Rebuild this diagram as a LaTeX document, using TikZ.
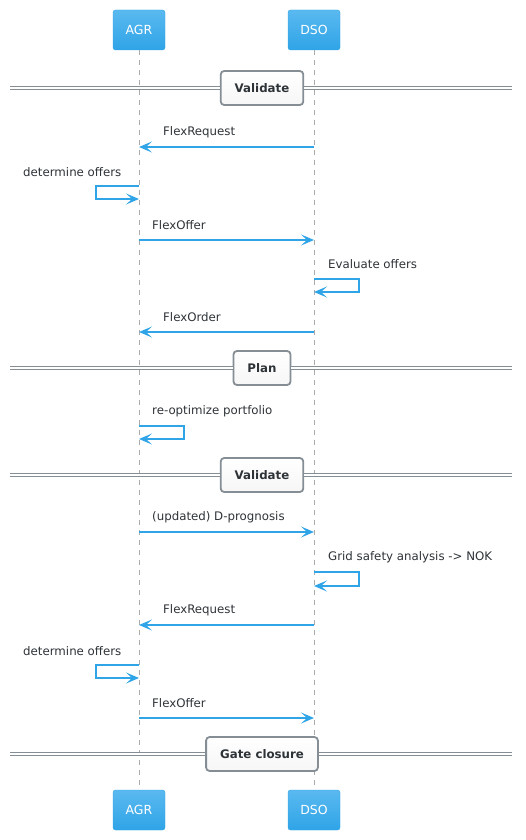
\documentclass[tikz,border=0pt]{standalone}
\usepackage{fontspec}
\setmainfont{DejaVu Sans}
\usetikzlibrary{arrows.meta}
\definecolor{cerulean}{HTML}{2FA4E7}
\definecolor{cerutop}{HTML}{5AB9F0}
\definecolor{sepgray}{HTML}{858D95}
\definecolor{txtgray}{HTML}{2E3338}
\definecolor{lifegray}{HTML}{ABABAB}

\begin{document}
\begin{tikzpicture}[x=1pt,y=-1pt,
    font=\fontsize{11.8}{14}\selectfont, text=txtgray,
    actor/.style={rectangle, rounded corners=2.5pt, minimum width=52pt, minimum height=40pt,
      top color=cerutop, bottom color=cerulean, draw=cerulean, text=white,
      font=\fontsize{12.5}{14}\selectfont},
    life/.style={draw=lifegray, dash pattern=on 5pt off 5pt, line width=0.8pt},
    msg/.style={draw=cerulean, line width=2.6pt, -{Stealth[length=13pt,width=11pt,inset=6pt]}},
    group/.style={rectangle, rounded corners=3.5pt, draw=sepgray, line width=1.8pt,
      top color=white, bottom color=gray!7, inner xsep=14pt, minimum height=34pt,
      font=\fontsize{11.8}{14}\selectfont\bfseries},
    sep/.style={draw=sepgray, double, double distance=2pt, line width=1pt},
    lbl/.style={anchor=west, inner sep=0pt}]

  \useasboundingbox (0,0) rectangle (525,840);

  % participants
  \node[actor] (agr) at (139,30) {AGR};
  \node[actor] (dso) at (314,30) {DSO};
  \node[actor] (agrb) at (139,810) {AGR};
  \node[actor] (dsob) at (314,810) {DSO};

  % lifelines
  \draw[life] (agr.south) -- (agrb.north);
  \draw[life] (dso.south) -- (dsob.north);

  % dividers
  \node[group] (val1) at (262,88) {Validate};
  \draw[sep] (10,88) -- (val1.west);
  \draw[sep] (val1.east) -- (512,88);

  \node[group] (plan) at (262,368) {Plan};
  \draw[sep] (10,368) -- (plan.west);
  \draw[sep] (plan.east) -- (512,368);

  \node[group] (val2) at (262,475) {Validate};
  \draw[sep] (10,475) -- (val2.west);
  \draw[sep] (val2.east) -- (512,475);

  \node[group] (gate) at (262,754) {Gate closure};
  \draw[sep] (10,754) -- (gate.west);
  \draw[sep] (gate.east) -- (512,754);

  % points on the lifelines
  \foreach \n/\y in {1/147,2/240,3/332,4/532,5/625,6/718} {
    \coordinate (a\n) at (139,\y);
    \coordinate (d\n) at (314,\y);
  }
  \coordinate (s1) at (139,186); \coordinate (s1e) at (139,199);
  \coordinate (s2) at (314,279); \coordinate (s2e) at (314,292);
  \coordinate (s3) at (139,426); \coordinate (s3e) at (139,439);
  \coordinate (s4) at (314,572); \coordinate (s4e) at (314,586);
  \coordinate (s5) at (139,665); \coordinate (s5e) at (139,678);

  % first round
  \draw[msg] (d1) -- (a1);
  \node[lbl] (m1) at (163,132) {FlexRequest};
  \draw[msg] (s1) -- ++(-43,0) |- (s1e);
  \node[lbl] (m2) at (23,172) {determine offers};
  \draw[msg] (a2) -- (d2);
  \node[lbl] (m3) at (152,225) {FlexOffer};
  \draw[msg] (s2) -- ++(45,0) |- (s2e);
  \node[lbl] (m4) at (328,264) {Evaluate offers};
  \draw[msg] (d3) -- (a3);
  \node[lbl] (m5) at (163,317) {FlexOrder};

  % plan
  \draw[msg] (s3) -- ++(45,0) |- (s3e);
  \node[lbl] (m6) at (152,411) {re-optimize portfolio};

  % second round
  \draw[msg] (a4) -- (d4);
  \node[lbl] (m7) at (152,517) {(updated) D-prognosis};
  \draw[msg] (s4) -- ++(45,0) |- (s4e);
  \node[lbl] (m8) at (328,557) {Grid safety analysis -> NOK};
  \draw[msg] (d5) -- (a5);
  \node[lbl] (m9) at (163,610) {FlexRequest};
  \draw[msg] (s5) -- ++(-43,0) |- (s5e);
  \node[lbl] (m10) at (23,651) {determine offers};
  \draw[msg] (a6) -- (d6);
  \node[lbl] (m11) at (152,703) {FlexOffer};

\end{tikzpicture}
\end{document}
